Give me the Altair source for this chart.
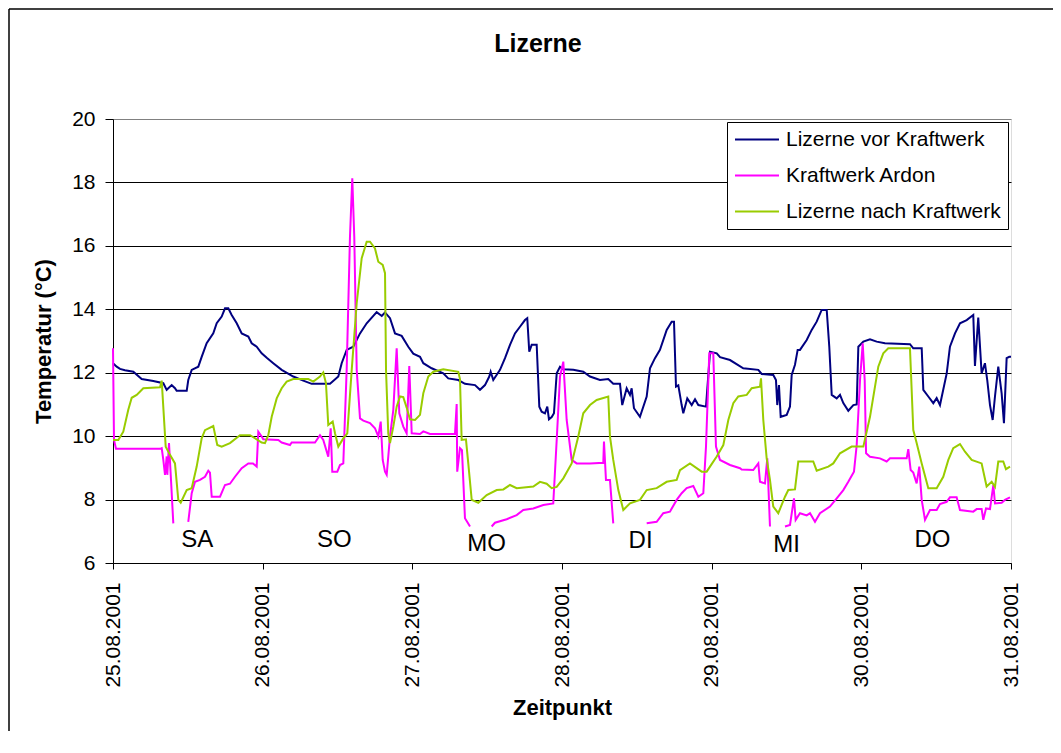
import altair as alt
import pandas as pd

FONT = "Liberation Sans"

chart_title = ["Lizerne"]
series_names = ["Lizerne vor Kraftwerk", "Kraftwerk Ardon", "Lizerne nach Kraftwerk"]
series_colors = ["#000080", "#FF00FF", "#99CC00"]

# (hours since 25.08.2001 00:00, temperature in °C)
vor_kraftwerk = [
    (0, 12.3), (0.59, 12.19), (1.12, 12.12), (1.92, 12.08), (3.26, 12.03), (4.6, 11.8),
    (6.46, 11.74), (8.07, 11.67), (8.61, 11.46), (9.41, 11.61), (9.94, 11.51), (10.21, 11.43),
    (11.82, 11.43), (12.07, 11.77), (12.62, 12.09), (13.68, 12.19), (14.22, 12.5), (15.02, 12.93),
    (16.08, 13.24), (16.63, 13.56), (17.43, 13.77), (17.96, 14.03), (18.49, 14.03), (19.03, 13.82),
    (19.84, 13.56), (20.64, 13.24), (21.7, 13.14), (22.24, 12.93), (23.04, 12.82), (23.84, 12.61),
    (24.65, 12.47), (25.7, 12.3), (27.05, 12.09), (28.91, 11.88), (30.51, 11.75), (31.86, 11.65),
    (34.8, 11.65), (36.13, 11.88), (36.67, 12.3), (37.47, 12.72), (38.53, 12.82), (39.61, 13.24),
    (40.68, 13.56), (42.28, 13.91), (43.09, 13.79), (43.62, 13.9), (44.42, 13.72), (45.22, 13.24),
    (46.29, 13.16), (47.35, 12.82), (48.15, 12.6), (49.23, 12.5), (49.76, 12.3), (51.1, 12.14),
    (52.96, 11.98), (53.76, 11.82), (55.37, 11.77), (56.44, 11.65), (58.05, 11.61), (58.85, 11.46),
    (59.65, 11.61), (60.34, 11.88), (60.56, 12.03), (60.98, 11.77), (62.06, 12.09), (62.86, 12.46),
    (63.66, 12.88), (64.46, 13.24), (65.26, 13.45), (66.06, 13.66), (66.43, 13.72), (66.75, 12.66),
    (67.14, 12.88), (67.94, 12.88), (68.36, 10.93), (68.74, 10.77), (69.27, 10.72), (69.64, 10.93),
    (69.91, 10.53), (70.35, 10.6), (70.71, 10.72), (71.15, 11.98), (71.68, 12.19), (72.21, 12.11),
    (73.81, 12.09), (75.41, 12.03), (76.49, 11.88), (78.09, 11.77), (79.42, 11.8), (80.22, 11.65),
    (81.3, 11.65), (81.66, 10.98), (82.37, 11.51), (82.9, 11.3), (83.17, 11.51), (83.54, 10.88),
    (84.5, 10.61), (85.58, 11.25), (86.11, 12.14), (86.91, 12.46), (87.71, 12.72), (88.79, 13.35),
    (89.59, 13.61), (89.96, 13.61), (90.28, 11.56), (90.65, 11.6), (91.19, 10.98), (91.45, 10.72),
    (92.09, 11.19), (92.8, 10.98), (93.33, 11.16), (93.86, 10.98), (95.09, 10.93), (95.74, 12.66),
    (96.81, 12.61), (97.34, 12.49), (98.94, 12.4), (101.07, 12.14), (103.48, 12.09), (104.02, 11.96),
    (105.88, 11.93), (106.31, 11.77), (106.52, 10.98), (106.79, 11.61), (107.07, 10.61), (108.03, 10.67),
    (108.56, 10.93), (108.83, 11.93), (109.36, 12.25), (109.79, 12.72), (110.16, 12.72), (111.24, 13.03),
    (112.04, 13.35), (112.84, 13.61), (113.64, 13.98), (114.45, 13.98), (114.86, 12.82), (115.25, 11.3),
    (116.05, 11.19), (116.58, 11.3), (117.11, 11.04), (117.91, 10.8), (118.72, 10.98), (119.26, 11.0),
    (119.52, 12.82), (120.32, 12.98), (121.39, 13.05), (122.46, 12.98), (123.79, 12.93), (127.8, 12.9),
    (128.33, 12.77), (129.68, 12.77), (129.94, 11.46), (130.74, 11.25), (131.54, 11.04), (132.08, 11.2),
    (132.61, 10.98), (133.69, 11.98), (134.21, 12.82), (135.02, 13.24), (135.82, 13.56), (136.89, 13.66),
    (137.95, 13.82), (138.22, 12.21), (138.75, 13.74), (139.29, 11.98), (139.82, 12.3), (140.19, 11.77),
    (140.63, 10.98), (141.06, 10.51), (141.43, 11.25), (141.96, 12.19), (142.5, 11.35), (142.87, 10.41),
    (143.3, 12.46), (143.72, 12.5), (144, 12.5),
]

# None marks a gap in the record
kraftwerk_ardon = [
    (0, 12.77), (0.16, 9.88), (0.48, 9.6), (7.54, 9.6), (7.81, 9.62), (8.07, 9.25), (8.34, 8.78),
    (8.61, 9.36), (8.71, 8.78), (8.98, 9.78), (9.3, 8.62), (9.67, 7.25), (9.75, None),
    (12.07, 7.3), (12.62, 8.2), (13.15, 8.56), (13.95, 8.62), (14.75, 8.72), (15.28, 8.91),
    (15.55, 8.85), (15.83, 8.09), (17.16, 8.09), (17.96, 8.46), (18.76, 8.5), (19.56, 8.72),
    (20.64, 8.99), (21.7, 9.14), (22.45, 9.14), (23.04, 9.04), (23.3, 10.14), (23.84, 9.99),
    (24.1, 9.9), (26.51, 9.88), (27.05, 9.8), (28.38, 9.72), (28.65, 9.8), (32.39, 9.8),
    (33.19, 10.03), (33.72, 9.88), (34.52, 9.35), (34.91, 10.25), (35.16, 8.88), (35.97, 8.88),
    (36.4, 9.09), (36.93, 9.14), (37.47, 12.09), (38.0, 16.29), (38.37, 18.13), (38.69, 16.29),
    (39.08, 12.09), (39.61, 10.56), (40.14, 10.49), (41.21, 10.41), (42.01, 10.25), (42.54, 9.99),
    (42.93, 10.46), (43.25, 9.25), (43.62, 8.88), (43.89, 8.78), (44.42, 9.99), (44.95, 10.83),
    (45.49, 12.77), (45.91, 10.72), (46.55, 10.3), (47.09, 10.09), (47.51, 12.21), (47.9, 10.09),
    (49.23, 10.07), (49.76, 10.15), (50.83, 10.07), (54.84, 10.07), (55.11, 11.01), (55.2, 8.88),
    (55.64, 9.62), (55.96, 9.56), (56.44, 7.41), (57.25, 7.15), (57.3, None),
    (60.72, 7.15), (61.25, 7.27), (63.13, 7.38), (64.73, 7.51), (65.79, 7.67), (67.4, 7.72),
    (69.0, 7.83), (70.6, 7.88), (71.15, 9.88), (71.68, 11.88), (72.21, 12.35), (72.75, 10.51),
    (73.55, 9.25), (74.35, 9.14), (76.49, 9.14), (78.62, 9.16), (78.73, 9.83), (79.05, 8.62),
    (79.69, 8.62), (80.22, 7.25), (80.3, None),
    (85.58, 7.25), (87.18, 7.3), (88.24, 7.57), (89.31, 7.62), (90.39, 7.99), (91.19, 8.2),
    (91.99, 8.36), (93.05, 8.43), (93.86, 8.09), (94.66, 8.2), (95.09, 9.67), (95.62, 12.61),
    (96.26, 12.61), (96.69, 9.67), (97.34, 9.25), (98.94, 9.09), (100.55, 8.99), (100.81, 8.95),
    (102.67, 8.93), (103.48, 9.14), (103.75, 8.56), (104.55, 8.51), (104.92, 9.3), (105.35, 7.15),
    (105.4, None),
    (107.76, 7.15), (108.56, 7.2), (109.2, 8.04), (109.47, 7.36), (110.16, 7.57), (111.24, 7.5),
    (111.77, 7.57), (112.57, 7.3), (113.37, 7.57), (114.97, 7.78), (116.05, 8.04), (117.11, 8.3),
    (117.91, 8.56), (118.82, 8.88), (119.26, 9.72), (119.79, 11.77), (120.22, 12.93), (120.54, 11.77),
    (120.76, 9.46), (121.39, 9.35), (122.99, 9.3), (124.06, 9.2), (124.6, 9.3), (127.27, 9.3),
    (127.53, 9.59), (127.91, 8.93), (128.33, 8.85), (128.87, 8.51), (129.29, 9.04), (129.68, 7.99),
    (130.21, 7.36), (131.01, 7.67), (132.08, 7.67), (132.61, 7.86), (133.69, 7.93), (134.21, 8.07),
    (135.28, 8.07), (135.82, 7.67), (137.95, 7.62), (138.49, 7.7), (139.29, 7.7), (139.56, 7.36),
    (139.99, 7.72), (140.63, 7.7), (141.17, 8.46), (141.43, 7.88), (142.5, 7.9), (143.03, 7.99),
    (143.84, 8.07),
]

nach_kraftwerk = [
    (0, 9.88), (0.85, 9.88), (1.65, 10.14), (2.45, 10.83), (3.0, 11.21), (3.8, 11.3), (4.86, 11.51),
    (7.54, 11.54), (7.81, 11.75), (8.45, 9.67), (9.14, 9.41), (9.94, 9.14), (10.47, 7.99),
    (10.86, 7.9), (11.82, 8.3), (12.62, 8.36), (13.42, 9.04), (14.22, 9.93), (14.75, 10.19),
    (16.08, 10.32), (16.72, 9.72), (17.43, 9.67), (18.76, 9.78), (20.36, 10.03), (21.97, 10.03),
    (23.04, 9.9), (23.84, 9.8), (24.37, 9.78), (24.9, 10.03), (25.45, 10.61), (26.25, 11.19),
    (27.05, 11.51), (27.85, 11.72), (28.91, 11.8), (31.32, 11.8), (32.12, 11.72), (33.19, 11.88),
    (33.72, 12.01), (34.15, 11.67), (34.52, 10.35), (35.23, 10.46), (35.6, 10.09), (36.13, 9.67),
    (36.93, 9.93), (37.57, 10.09), (38.28, 12.09), (39.08, 14.19), (39.88, 15.61), (40.68, 16.13),
    (41.21, 16.13), (42.01, 15.92), (42.54, 15.5), (43.25, 15.4), (43.62, 15.14), (43.78, 12.09),
    (44.14, 10.09), (44.42, 9.78), (44.95, 10.3), (45.49, 10.93), (46.02, 11.25), (46.55, 11.23),
    (47.09, 10.9), (47.62, 10.53), (48.43, 10.51), (49.23, 10.67), (49.76, 11.35), (50.56, 11.88),
    (51.36, 12.03), (52.96, 12.11), (55.37, 12.03), (55.64, 11.8), (55.91, 9.88), (56.6, 9.9),
    (56.97, 9.14), (57.52, 7.99), (58.58, 7.9), (59.92, 8.14), (61.53, 8.3), (62.59, 8.32),
    (63.66, 8.46), (64.73, 8.36), (67.4, 8.41), (68.47, 8.56), (69.54, 8.5), (70.35, 8.36),
    (71.15, 8.4), (72.21, 8.67), (73.55, 9.14), (74.61, 9.99), (75.41, 10.72), (76.49, 10.98),
    (77.56, 11.14), (79.42, 11.25), (79.69, 9.99), (80.22, 9.25), (81.03, 8.3), (81.83, 7.67),
    (82.9, 7.88), (84.5, 7.99), (85.58, 8.3), (87.18, 8.36), (88.79, 8.56), (90.39, 8.62),
    (90.92, 8.93), (92.52, 9.14), (94.4, 8.88), (95.2, 8.88), (95.73, 9.04), (96.81, 9.36),
    (97.87, 9.72), (98.67, 10.51), (99.47, 11.04), (100.27, 11.25), (101.62, 11.3), (102.42, 11.51),
    (103.75, 11.56), (103.91, 11.82), (104.28, 10.51), (104.82, 9.3), (105.35, 8.62), (105.88, 7.78),
    (106.68, 7.57), (107.76, 8.09), (108.29, 8.3), (109.36, 8.32), (109.89, 9.2), (112.29, 9.2),
    (112.84, 8.91), (114.7, 9.04), (115.5, 9.14), (116.58, 9.46), (118.45, 9.67), (120.32, 9.67),
    (121.39, 10.61), (122.19, 11.56), (122.72, 12.19), (123.52, 12.61), (124.32, 12.77), (127.8, 12.77),
    (128.33, 10.19), (128.87, 9.78), (129.68, 9.14), (130.74, 8.36), (132.08, 8.36), (133.14, 8.72),
    (133.95, 9.25), (134.74, 9.62), (135.82, 9.75), (136.62, 9.51), (137.69, 9.25), (139.29, 9.14),
    (140.09, 8.41), (140.9, 8.56), (141.43, 8.4), (141.96, 9.2), (142.76, 9.2), (143.19, 8.96),
    (143.84, 9.04),
]

day_labels = ["SA", "SO", "MO", "DI", "MI", "DO"]
day_label_hours = [13.5, 35.5, 59.9, 84.6, 108.0, 131.4]
day_label_values = [6.71, 6.71, 6.6, 6.69, 6.58, 6.71]

start = pd.Timestamp("2001-08-25 00:00:00")

rows = []
for name, pts in zip(series_names, [vor_kraftwerk, kraftwerk_ardon, nach_kraftwerk]):
    seg = 0
    for h, v in pts:
        if v is None:
            seg += 1
            continue
        rows.append({"t": start + pd.Timedelta(hours=h), "v": v,
                     "series": name, "seg": f"{name}-{seg}"})
lines_df = pd.DataFrame(rows)

labels_df = pd.DataFrame({
    "t": [start + pd.Timedelta(hours=h) for h in day_label_hours],
    "v": day_label_values,
    "label": day_labels,
})

x_enc = alt.X(
    "t:T",
    scale=alt.Scale(domain=[alt.DateTime(year=2001, month=8, date=25),
                            alt.DateTime(year=2001, month=8, date=31)], nice=False),
    axis=alt.Axis(
        values=[alt.DateTime(year=2001, month=8, date=d) for d in range(25, 32)],
        format="%d.%m.%Y", labelAngle=270, grid=False,
        tickSize=6, tickColor="black", domainColor="black",
        labelFont=FONT, labelFontSize=21, labelColor="black", labelPadding=13,
        labelOverlap=False, labelFlush=False,
        title="Zeitpunkt", titleFont=FONT, titleFontSize=22, titleFontWeight="bold",
        titleColor="black", titlePadding=10,
    ),
)
y_enc = alt.Y(
    "v:Q",
    scale=alt.Scale(domain=[6, 20], nice=False, zero=False),
    axis=alt.Axis(
        values=[6, 8, 10, 12, 14, 16, 18, 20], grid=True,
        gridColor={"condition": {"test": "datum.value === 20", "value": "#808080"}, "value": "black"},
        gridWidth=1, tickSize=8, tickColor="black", domainColor="black",
        labelFont=FONT, labelFontSize=21, labelColor="black", labelPadding=10,
        title="Temperatur (°C)", titleFont=FONT, titleFontSize=22, titleFontWeight="bold",
        titleColor="black", titlePadding=16,
    ),
)

lines = alt.Chart(lines_df).mark_line(strokeWidth=2).encode(
    x=x_enc,
    y=y_enc,
    color=alt.Color(
        "series:N",
        scale=alt.Scale(domain=series_names, range=series_colors),
        legend=alt.Legend(
            orient="none", legendX=614, legendY=3, title=None,
            symbolType="stroke", symbolSize=1936, symbolStrokeWidth=2,
            labelFont=FONT, labelFontSize=21, labelColor="black", labelLimit=400,
            labelOffset=6, padding=7, rowPadding=14, clipHeight=21,
            strokeColor="black", fillColor="white",
        ),
        sort=series_names,
    ),
    detail="seg:N",
)

day_text = alt.Chart(labels_df).mark_text(
    font=FONT, fontSize=24, color="black", align="center", baseline="middle"
).encode(x=x_enc, y=y_enc, text="label:N")

title_text = alt.Chart(pd.DataFrame({"title": chart_title})).mark_text(
    font=FONT, fontSize=25, fontWeight="bold", color="black", align="center", baseline="middle"
).encode(x=alt.value(425), y=alt.value(-75), text="title:N")

# outer chart frame: only its left and top edges fall inside the picture
frame_left = alt.Chart(pd.DataFrame({"f": [0]})).mark_rule(
    color="black", strokeWidth=1.5
).encode(x=alt.value(-104), y=alt.value(-110), y2=alt.value(620))
frame_top = alt.Chart(pd.DataFrame({"f": [0]})).mark_rule(
    color="black", strokeWidth=1.5
).encode(y=alt.value(-110), x=alt.value(-104), x2=alt.value(940))

chart = alt.layer(frame_left, frame_top, lines, day_text, title_text).properties(
    width=898, height=444,
    autosize=alt.AutoSizeParams(type="none"),
    padding={"left": 105, "top": 111, "right": 42, "bottom": 168},
).configure_view(stroke="#808080", strokeWidth=1).configure(background="white")

chart.save("out.html", embed_options={"renderer": "svg", "actions": False})
